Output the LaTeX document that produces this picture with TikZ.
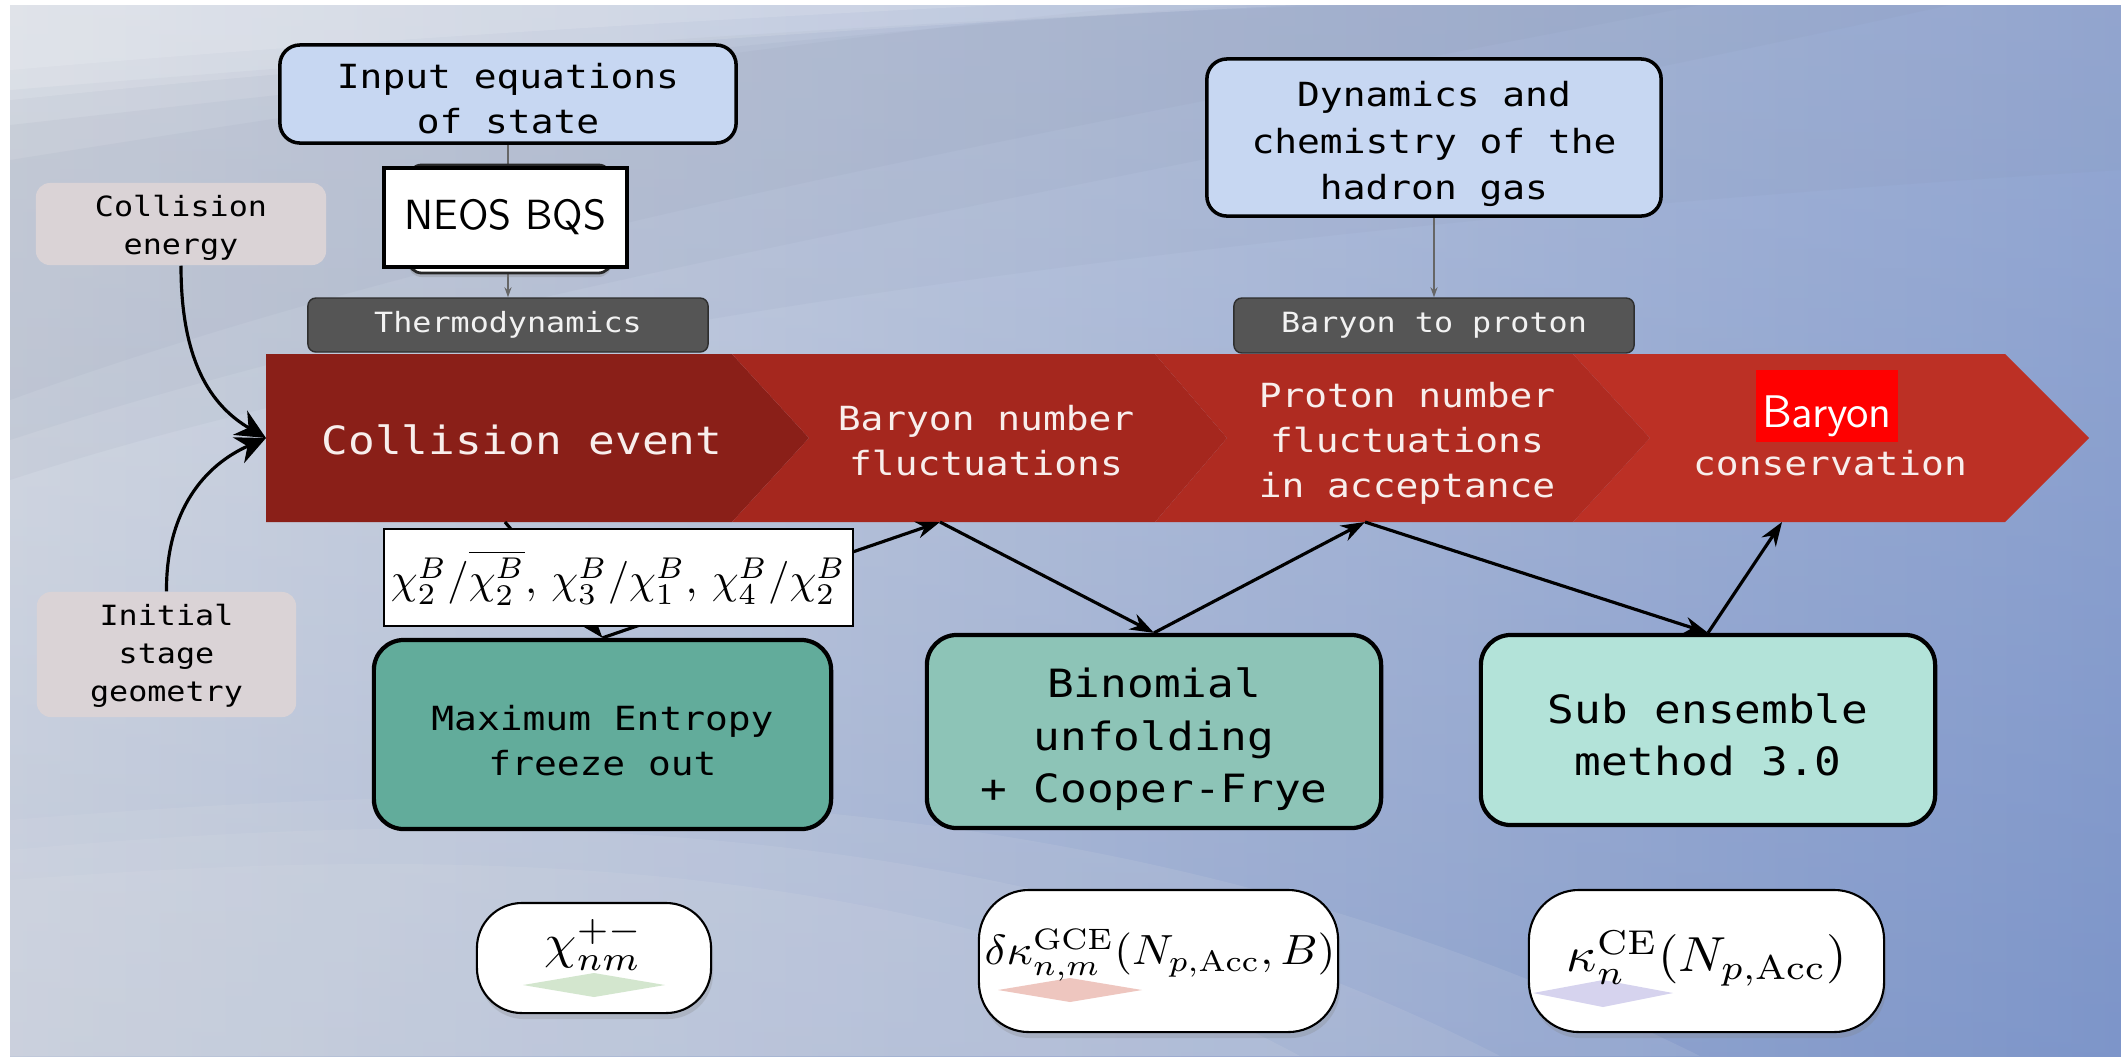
\documentclass[tikz,border=0pt]{standalone}
\usepackage{fontspec}
\usepackage{graphicx}
\newfontfamily\monof[FakeStretch=1.14]{DejaVu Sans Mono}
\usetikzlibrary{arrows.meta,shadows}
\definecolor{bgL}{HTML}{D0D5DE}
\definecolor{bgR}{HTML}{7D95C9}
\definecolor{swath}{HTML}{7E8AA4}
\definecolor{lightsw}{HTML}{E2E4E9}
\definecolor{srcblue}{HTML}{C7D7F2}
\definecolor{taggrey}{HTML}{555555}
\definecolor{tagedge}{HTML}{2E2E2E}
\definecolor{sidegrey}{HTML}{DAD3D6}
\definecolor{mone}{HTML}{62AC9B}
\definecolor{mtwo}{HTML}{8DC4B7}
\definecolor{mthree}{HTML}{B3E3D9}
\definecolor{segone}{HTML}{8A1F18}
\definecolor{segtwo}{HTML}{A5271E}
\definecolor{segthree}{HTML}{AF2B21}
\definecolor{segfour}{HTML}{BC3025}
\definecolor{bandtxt}{HTML}{F8EEEC}
\definecolor{linegrey}{HTML}{666666}
\definecolor{dgreen}{HTML}{D3E6CE}
\definecolor{dpink}{HTML}{EEC6BF}
\definecolor{dlav}{HTML}{D6D3EE}
\tikzset{
  mono/.style={font=\monof\fontsize{9.45}{12.8}\selectfont},
  monoL/.style={font=\monof\fontsize{11.07}{14.9}\selectfont},
  monoS/.style={font=\monof\fontsize{7.92}{10.8}\selectfont},
  txt/.style={align=center, inner sep=0pt},
  srcbox/.style={draw=black, line width=1pt, fill=srcblue, rounded corners=0.2cm, inner sep=0pt},
  tagbox/.style={monoS, draw=tagedge, line width=0.4pt, fill=taggrey, text=white!95!black, rounded corners=0.08cm, inner sep=0pt},
  sidebox/.style={fill=sidegrey, rounded corners=0.14cm, inner sep=0pt},
  method/.style={draw=black, line width=1.2pt, rounded corners=0.3cm, inner sep=0pt},
  bandtext/.style={mono, text=bandtxt, align=center, inner sep=0pt},
  fbox/.style={draw=black, line width=0.6pt, fill=white, rounded corners=0.45cm, inner sep=0pt,
    drop shadow={opacity=0.25, shadow xshift=0.02cm, shadow yshift=-0.06cm}},
  arr/.style={line width=0.9pt, -{Stealth[length=0.24cm, width=0.17cm]}},
  thinarr/.style={draw=linegrey, line width=0.45pt, -{Stealth[length=0.1cm, width=0.07cm]}},
  curvearr/.style={line width=0.9pt, -{Stealth[length=0.3cm, width=0.28cm]}},
}
\begin{document}
\begin{tikzpicture}[x=0.01cm, y=-0.01cm]
\useasboundingbox (0,0) rectangle (2121,1056);
% background
\fill[white] (0,0) rectangle (2121,1056);
\shade[left color=bgL, right color=bgR] (10,5) rectangle (2121,1056);
\shade[top color=white, bottom color=bgR, opacity=0.18] (10,5) rectangle (2121,1056);
% darker diagonal swath (soft layers)
\fill[swath, opacity=0.07] (10,90) .. controls (500,50) and (900,20) .. (1350,5) -- (2121,5) -- (2121,170) .. controls (1300,220) and (500,320) .. (10,480) -- cycle;
\fill[swath, opacity=0.07] (10,125) .. controls (500,70) and (850,30) .. (1250,5) -- (1950,5) .. controls (1200,170) and (500,280) .. (10,440) -- cycle;
\fill[swath, opacity=0.07] (10,160) .. controls (450,90) and (800,40) .. (1150,5) -- (1700,5) .. controls (1000,140) and (450,240) .. (10,400) -- cycle;
% light top-left corner
\fill[white, opacity=0.12] (10,5) -- (1300,5) .. controls (800,30) and (400,60) .. (10,100) -- cycle;
\fill[white, opacity=0.12] (10,5) -- (1000,5) .. controls (600,25) and (300,45) .. (10,70) -- cycle;
% light bottom-left swoosh (soft layers)
\fill[lightsw, opacity=0.12] (10,820) .. controls (500,780) and (1100,760) .. (1700,1056) -- (10,1056) -- cycle;
\fill[lightsw, opacity=0.12] (10,850) .. controls (450,810) and (1000,800) .. (1500,1056) -- (10,1056) -- cycle;
\fill[lightsw, opacity=0.12] (10,880) .. controls (400,850) and (900,840) .. (1300,1056) -- (10,1056) -- cycle;

% band
\fill[segone] (266,354) -- (732,354) -- (809,438) -- (732,522) -- (266,522) -- cycle;
\fill[segtwo] (732,354) -- (1155,354) -- (1227,438) -- (1155,522) -- (732,522) -- (809,438) -- cycle;
\fill[segthree] (1155,354) -- (1573,354) -- (1650,438) -- (1573,522) -- (1155,522) -- (1227,438) -- cycle;
\fill[segfour] (1573,354) -- (2005,354) -- (2089,438) -- (2005,522) -- (1573,522) -- (1650,438) -- cycle;

% band texts
\node[bandtext, monoL] (sCE) at (522,440) {Collision event};
\node[bandtext] (sBN) at (986,441) {Baryon number\\fluctuations};
\node[bandtext] (sPN) at (1407,443) {Proton number\\fluctuations\\in acceptance};
\node[bandtext] (sBC) at (1830,463) {conservation};
\node[fill=red, minimum width=1.42cm, minimum height=0.72cm, inner sep=0pt] (barybox) at (1827,406) {};
\node[anchor=base, text=white, font=\sffamily\fontsize{13}{15}\selectfont, inner sep=0pt] (bary) at (1827,427) {Baryon};

% source boxes
\node[srcbox, minimum width=4.56cm, minimum height=0.98cm] (inp) at (508,94) {};
\node[txt, mono] (inpt) at (508,99) {Input equations\\of state};
\node[srcbox, minimum width=4.54cm, minimum height=1.57cm] (dyn) at (1434,137.5) {};
\node[txt, mono, font=\monof\fontsize{9.45}{13.2}\selectfont] (dynt) at (1434,144) {Dynamics and\\chemistry of the\\hadron gas};
\node[tagbox, minimum width=4cm, minimum height=0.54cm] (thermo) at (508,325) {Thermodynamics};
\node[tagbox, minimum width=4cm, minimum height=0.55cm] (b2p) at (1434,325.5) {Baryon to proton};
\node[sidebox, minimum width=2.9cm, minimum height=0.82cm] (colE) at (181,224) {};
\node[txt, monoS] (colEt) at (181,228) {Collision\\energy};
\node[sidebox, minimum width=2.59cm, minimum height=1.25cm] (init) at (166.5,654.5) {};
\node[txt, monoS] (initt) at (166.5,656) {Initial\\stage\\geometry};

\draw[thinarr] (inp.south) -- (thermo.north);
\draw[thinarr] (dyn.south) -- (b2p.north);

\node[draw=black!85, line width=0.8pt, fill=white, rounded corners=0.14cm, minimum width=2.04cm, minimum height=1.08cm,
  drop shadow={opacity=0.3, shadow xshift=0pt, shadow yshift=-0.04cm}] (neosbg) at (510,219) {};
\node[draw=black, line width=0.9pt, fill=white, minimum width=2.43cm, minimum height=0.99cm, inner sep=0pt,
  font=\sffamily\fontsize{12}{14}\selectfont] (neos) at (505.5,217.5) {NEOS BQS};

% method boxes
\node[method, fill=mone, minimum width=4.57cm, minimum height=1.89cm] (me) at (602.5,734.5) {};
\node[txt, mono] (met) at (602.5,741) {Maximum Entropy\\freeze out};
\node[method, fill=mtwo, minimum width=4.54cm, minimum height=1.93cm] (bin) at (1154,731.5) {};
\node[txt, monoL] (bint) at (1154,739.5) {Binomial\\unfolding\\+ Cooper-Frye};
\node[method, fill=mthree, minimum width=4.54cm, minimum height=1.90cm] (sub) at (1708,730) {};
\node[txt, monoL] (subt) at (1708,735) {Sub ensemble\\method 3.0};

% connectors
\coordinate (p1) at (505,522);
\coordinate (p2) at (940,522);
\coordinate (p3) at (1365,522);
\coordinate (p4) at (1782,522);
\coordinate (tgt) at (266,438);
\draw[arr] (p1) -- (me.north);
\draw[arr] (me.north) -- (p2);
\draw[arr] (p2) -- (bin.north);
\draw[arr] (bin.north) -- (p3);
\draw[arr] (p3) -- (sub.north);
\draw[arr] (sub.north) -- (p4);
\draw[curvearr] (colE.south) .. controls (181,360) and (210,405) .. (tgt);
\draw[curvearr] (init.north) .. controls (166,510) and (205,465) .. (tgt);

% ratio box
\node[draw=black, line width=0.6pt, fill=white, minimum width=4.69cm, minimum height=0.97cm, inner sep=0pt] (ratios) at (618.5,577.5)
  {\scalebox{1.22}{$\chi_2^B/\overline{\chi_2^B},\,\chi_3^B/\chi_1^B,\,\chi_4^B/\chi_2^B$}};

% bottom formula boxes
\node[fbox, minimum width=2.34cm, minimum height=1.10cm] (fchi) at (594,958) {};
\fill[dgreen] (523,985) -- (594,973) -- (665,985) -- (594,997) -- cycle;
\node[inner sep=0pt] (tchi) at (594,945) {\scalebox{1.46}[1.38]{$\chi^{+-}_{nm}$}};
\node[fbox, rounded corners=0.5cm, minimum width=3.59cm, minimum height=1.42cm] (fdk) at (1158.5,961) {};
\fill[dpink] (998,990) -- (1070,978) -- (1142,990) -- (1070,1002) -- cycle;
\node[inner sep=0pt] (tdk) at (1160,955) {\scalebox{1.3}[1.2]{$\delta\kappa^{\mathrm{GCE}}_{n,m}(N_{p,\mathrm{Acc}},B)$}};
\node[fbox, rounded corners=0.5cm, minimum width=3.55cm, minimum height=1.42cm] (fk) at (1706.5,961) {};
\fill[dlav] (1533,993) -- (1603,980) -- (1673,993) -- (1603,1007) -- cycle;
\node[inner sep=0pt] (tk) at (1707,958) {\scalebox{1.5}[1.4]{$\kappa^{\mathrm{CE}}_{n}(N_{p,\mathrm{Acc}})$}};
\end{tikzpicture}
\end{document}
